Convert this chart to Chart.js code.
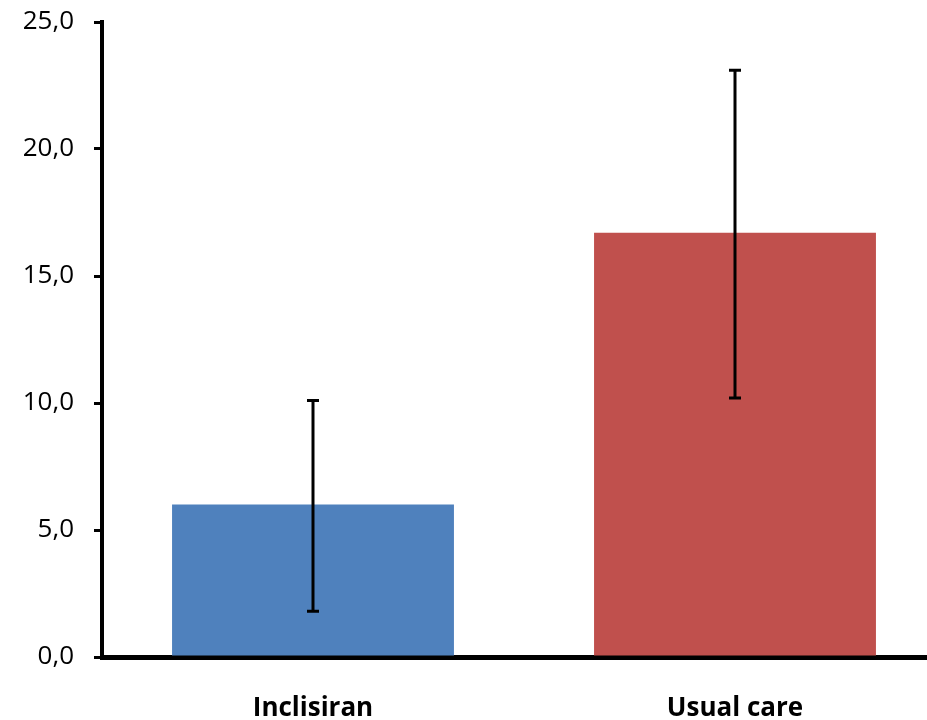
<!DOCTYPE html>
<html>
<head>
<meta charset="utf-8">
<script src="https://cdn.jsdelivr.net/npm/chart.js@4"></script>
<style>
  html, body { margin: 0; padding: 0; background: #fff; overflow: hidden; }
  #wrap { width: 950px; height: 720px; }
</style>
</head>
<body>
<div id="wrap"><canvas id="c"></canvas></div>
<script>
// Groups and their means with lower/upper error limits
const categories = ['Inclisiran', 'Usual care'];
const means = [6.0, 16.7];
const errLow = [1.8, 10.2];
const errHigh = [10.1, 23.1];
const barColors = ['#4F81BD', '#C0504D'];
const yTickLabels = ['0,0', '5,0', '10,0', '15,0', '20,0', '25,0'];

// Draws vertical error bars with flat caps over each bar
const errorBars = {
  id: 'errorBars',
  afterDatasetsDraw(chart) {
    const ctx = chart.ctx;
    const xs = chart.scales.x, ys = chart.scales.y;
    ctx.save();
    ctx.strokeStyle = '#000';
    ctx.lineCap = 'butt';
    categories.forEach((c, i) => {
      const x = xs.getPixelForValue(i);
      const yLo = ys.getPixelForValue(errLow[i]);
      const yHi = ys.getPixelForValue(errHigh[i]);
      ctx.lineWidth = 3;
      ctx.beginPath();
      ctx.moveTo(x, yLo);
      ctx.lineTo(x, yHi);
      ctx.stroke();
      ctx.beginPath();
      ctx.moveTo(x - 6, yLo); ctx.lineTo(x + 6, yLo);
      ctx.moveTo(x - 6, yHi); ctx.lineTo(x + 6, yHi);
      ctx.stroke();
    });
    ctx.restore();
  }
};

new Chart(document.getElementById('c'), {
  type: 'bar',
  data: {
    labels: categories,
    datasets: [{
      data: means,
      backgroundColor: barColors,
      borderWidth: 0,
      barPercentage: 0.668,
      categoryPercentage: 1.0
    }]
  },
  plugins: [errorBars],
  options: {
    responsive: true,
    maintainAspectRatio: false,
    animation: false,
    layout: { padding: { top: 22, right: 4, left: 0, bottom: 0 } },
    plugins: { legend: { display: false }, tooltip: { enabled: false } },
    scales: {
      x: {
        grid: { display: false },
        border: { color: '#000', width: 5 },
        ticks: {
          color: '#000',
          padding: 28,
          font: { family: 'Open Sans', size: 26, weight: 'bold' }
        },
        afterFit(s) { s.height = 63; s.paddingLeft = 0; s.paddingRight = 0; }
      },
      y: {
        min: 0,
        max: 25,
        grid: {
          drawOnChartArea: false,
          drawTicks: true,
          tickLength: 8,
          color: '#000',
          lineWidth: 3
        },
        border: { color: '#000', width: 4 },
        ticks: {
          stepSize: 5,
          color: '#000',
          padding: 20,
          font: { family: 'Open Sans', size: 26 },
          callback: (v) => yTickLabels[Math.round(v / 5)]
        },
        afterFit(s) { s.width = 102; s.paddingTop = 0; s.paddingBottom = 0; }
      }
    }
  }
});
</script>
</body>
</html>
